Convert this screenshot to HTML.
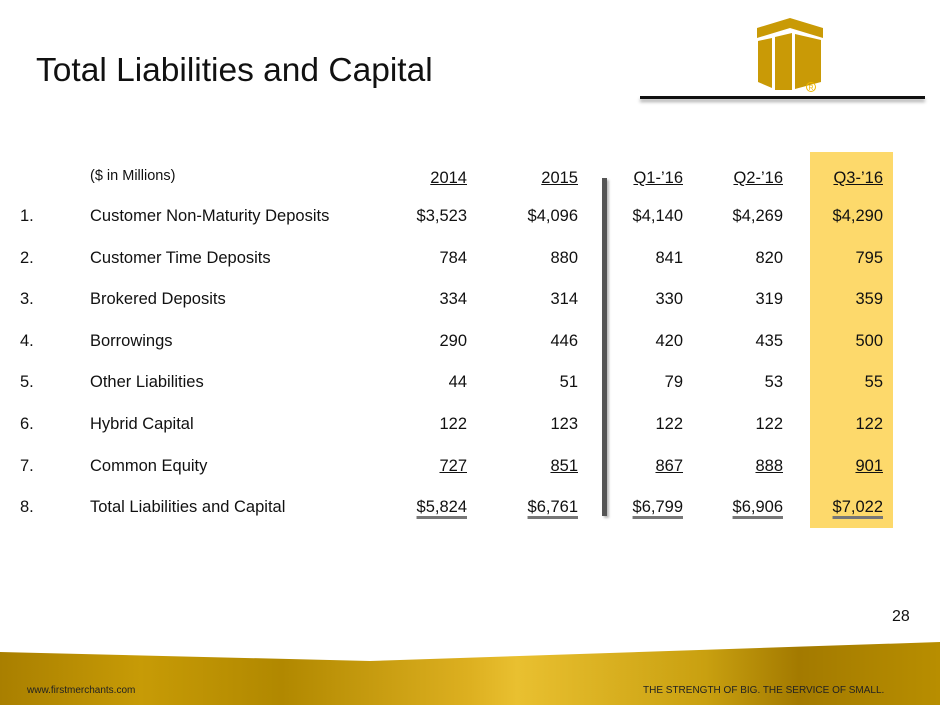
<!DOCTYPE html>
<html><head><meta charset="utf-8"><style>
body{margin:0;width:940px;height:705px;overflow:hidden;background:#fff;font-family:"Liberation Sans",sans-serif;position:relative;color:#111}
.a{position:absolute;white-space:nowrap}
.num{text-align:right;width:100px;font-size:16.5px}
.lbl{font-size:16.5px}
.u{text-decoration:underline}
.dbl{text-decoration:underline;text-decoration-color:#777;text-decoration-thickness:3px;text-underline-offset:4px}
</style></head><body>
<div class="a" style="left:36px;top:52px;font-size:33.5px;color:#111">Total Liabilities and Capital</div>
<svg class="a" style="left:750px;top:14px" width="80" height="82" viewBox="0 0 80 82">
<polygon points="7,14 40,4 73,14 73,24 40,14 7,24" fill="#c99a06"/>
<polygon points="8,27 22,24 22,74 8,68" fill="#c99a06"/>
<polygon points="25,23 42,19 42,76 25,76" fill="#c99a06"/>
<polygon points="45,20 71,26 71,68 45,75" fill="#c99a06"/>
<circle cx="61" cy="73" r="4.5" fill="none" stroke="#f0b800" stroke-width="1"/><text x="58.5" y="76" font-size="7" fill="#f0b800" font-family="Liberation Sans">R</text>
</svg>
<div class="a" style="left:640px;top:96px;width:285px;height:3px;background:#111;box-shadow:0 3px 3px #aaa"></div>
<div class="a" style="left:810px;top:152px;width:83px;height:376px;background:#fdd96b"></div>
<div class="a" style="left:602px;top:178px;width:5px;height:338px;background:#555;box-shadow:2px 2px 2px #bbb"></div>
<div class="a" style="left:90px;top:168px;font-size:14.5px">($ in Millions)</div>
<div id="tbl"></div>
<div class="a" style="left:892px;top:608px;font-size:16px">28</div>
<svg class="a" style="left:0;top:640px" width="940" height="65">
<defs><linearGradient id="g" x1="0" x2="1"><stop offset="0" stop-color="#a97f00"/><stop offset="0.15" stop-color="#c79b06"/><stop offset="0.3" stop-color="#b18800"/><stop offset="0.5" stop-color="#ddb020"/><stop offset="0.55" stop-color="#e9c030"/><stop offset="0.75" stop-color="#c9a010"/><stop offset="0.85" stop-color="#a37a00"/><stop offset="1" stop-color="#b88e00"/></linearGradient></defs>
<polygon points="0,12 370,21 940,2 940,65 0,65" fill="url(#g)"/></svg>
<div class="a" style="left:27px;top:685px;font-size:10px;color:#222">www.firstmerchants.com</div>
<div class="a" style="left:643px;top:685px;font-size:10px;color:#222">THE STRENGTH OF BIG. THE SERVICE OF SMALL.</div>
<script>
const headers=["2014","2015","Q1-’16","Q2-’16","Q3-’16"];
const labels=["Customer Non-Maturity Deposits","Customer Time Deposits","Brokered Deposits","Borrowings","Other Liabilities","Hybrid Capital","Common Equity","Total Liabilities and Capital"];
const v2014=["$3,523","784","334","290","44","122","727","$5,824"];
const v2015=["$4,096","880","314","446","51","123","851","$6,761"];
const vQ1=["$4,140","841","330","420","79","122","867","$6,799"];
const vQ2=["$4,269","820","319","435","53","122","888","$6,906"];
const vQ3=["$4,290","795","359","500","55","122","901","$7,022"];
const cols=[v2014,v2015,vQ1,vQ2,vQ3];
const rights=[467,578,683,783,883];
const t=document.getElementById('tbl');
function mk(txt,cls,x,y,name){const d=document.createElement('div');d.className='a '+cls;d.textContent=txt;d.style.left=x+'px';d.style.top=y+'px';


t.appendChild(d);return d;}
headers.forEach((h,i)=>{mk(h,'num u',rights[i]-100,169,'column-header');});
labels.forEach((l,r)=>{const y=207+r*41.6;
mk((r+1)+'.','lbl',20,y,'row-number');
mk(l,'lbl',90,y,'row-label');
cols.forEach((c,i)=>{const d=mk(c[r],'num',rights[i]-100,y,'cell-value');
if(r==6)d.classList.add('u');if(r==7)d.classList.add('dbl');});});
</script>
</body></html>
